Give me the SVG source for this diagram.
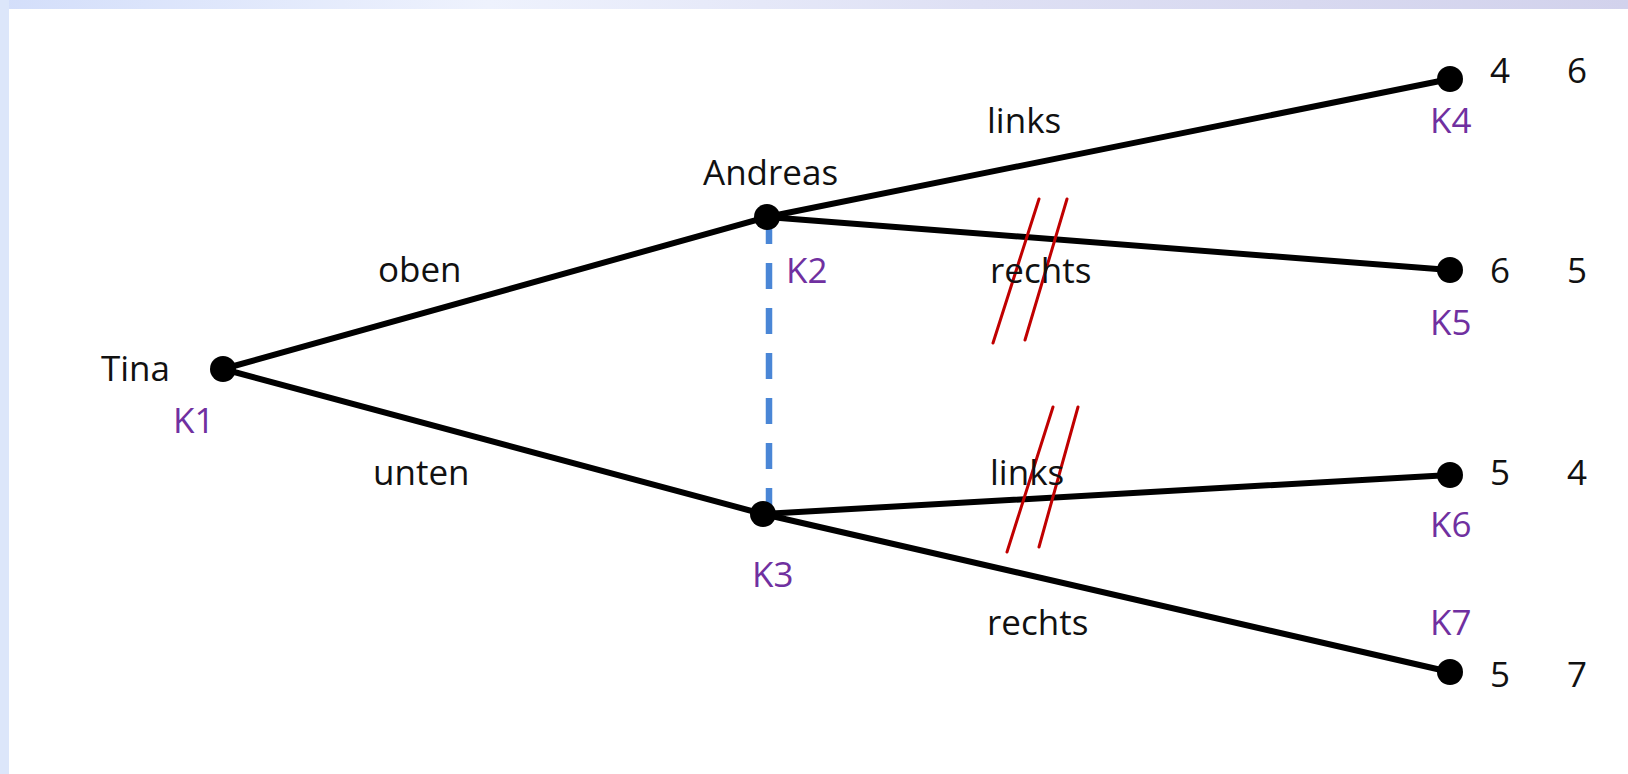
<svg xmlns="http://www.w3.org/2000/svg" width="1628" height="774" viewBox="0 0 1628 774">
<defs>
<linearGradient id="band" x1="0" y1="0" x2="1" y2="0">
<stop offset="0" stop-color="#D3DEFA"/>
<stop offset="0.3" stop-color="#EEF2FD"/>
<stop offset="0.6" stop-color="#DEE0F4"/>
<stop offset="1" stop-color="#D2D2EC"/>
</linearGradient>
<style>
.t{font-family:"Open Sans","DejaVu Sans",sans-serif;font-size:35px;fill:#111}
.k{font-family:"Open Sans","DejaVu Sans",sans-serif;font-size:35px;fill:#7030A0}
.e{stroke:#000;stroke-width:6;fill:none;stroke-linecap:round}
.d{fill:#000}
.r{stroke:#C00000;stroke-width:3;stroke-linecap:round}
</style>
</defs>
<rect x="0" y="0" width="1628" height="774" fill="#fff"/>
<rect x="0" y="0" width="1628" height="9" fill="url(#band)"/>
<rect x="0" y="0" width="9" height="774" fill="#DCE6FA"/>

<g id="connectors">
<line class="e" x1="223" y1="369" x2="767" y2="217"/>
<line class="e" x1="223" y1="369" x2="763" y2="514"/>
<line class="e" x1="767" y1="217" x2="1450" y2="79"/>
<line class="e" x1="767" y1="217" x2="1450" y2="270"/>
<line class="e" x1="763" y1="514" x2="1450" y2="475"/>
<line class="e" x1="763" y1="514" x2="1450" y2="672"/>
<line x1="769" y1="218" x2="769" y2="512" stroke="#4A86D6" stroke-width="6.5" stroke-dasharray="26 19"/>
<line class="r" x1="1039" y1="199" x2="993" y2="343"/>
<line class="r" x1="1067" y1="199" x2="1025" y2="340"/>
<line class="r" x1="1053" y1="407" x2="1007" y2="552"/>
<line class="r" x1="1078" y1="407" x2="1039" y2="547"/>
<text class="t" x="378" y="282">oben</text>
<text class="t" x="373" y="485">unten</text>
<text class="t" x="987" y="133">links</text>
<text class="t" x="990" y="283">rechts</text>
<text class="t" x="990" y="485">links</text>
<text class="t" x="987" y="635">rechts</text>
</g>

<g id="K1">
<circle class="d" cx="223" cy="369" r="13"/>
<text class="t" x="101" y="381">Tina</text>
<text class="k" x="173" y="433">K1</text>
</g>
<g id="K2">
<circle class="d" cx="767" cy="217" r="13"/>
<text class="t" x="703" y="185">Andreas</text>
<text class="k" x="786" y="283">K2</text>
</g>
<g id="K3">
<circle class="d" cx="763" cy="514" r="13"/>
<text class="k" x="752" y="587">K3</text>
</g>
<g id="K4">
<circle class="d" cx="1450" cy="79" r="13"/>
<text class="t" x="1490" y="83">4</text>
<text class="t" x="1567" y="83">6</text>
<text class="k" x="1430" y="133">K4</text>
</g>
<g id="K5">
<circle class="d" cx="1450" cy="270" r="13"/>
<text class="t" x="1490" y="283">6</text>
<text class="t" x="1567" y="283">5</text>
<text class="k" x="1430" y="335">K5</text>
</g>
<g id="K6">
<circle class="d" cx="1450" cy="475" r="13"/>
<text class="t" x="1490" y="485">5</text>
<text class="t" x="1567" y="485">4</text>
<text class="k" x="1430" y="537">K6</text>
</g>
<g id="K7">
<circle class="d" cx="1450" cy="672" r="13"/>
<text class="t" x="1490" y="687">5</text>
<text class="t" x="1567" y="687">7</text>
<text class="k" x="1430" y="635">K7</text>
</g>
</svg>
